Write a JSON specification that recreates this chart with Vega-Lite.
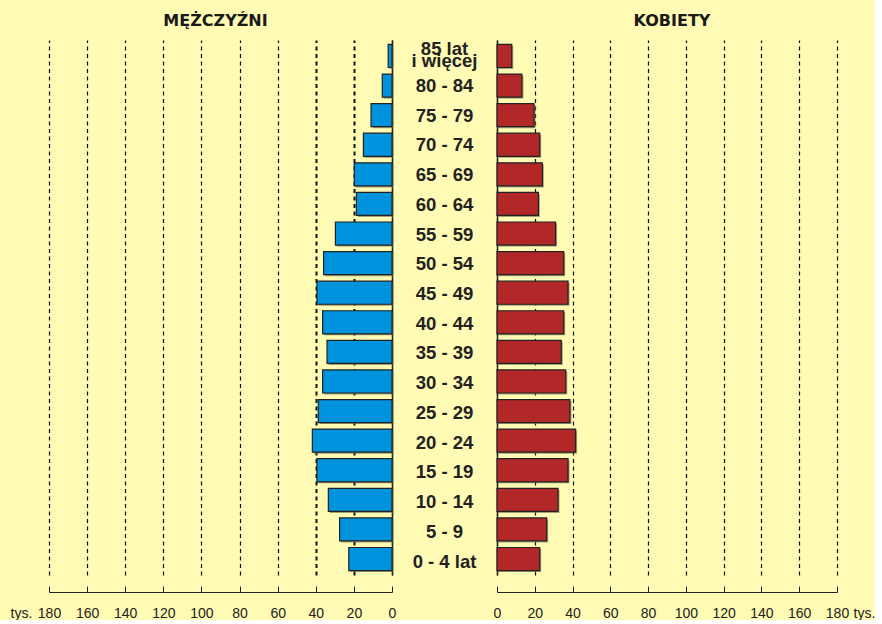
{
  "$schema": "https://vega.github.io/schema/vega-lite/v6.json",
  "background": "#fffab4",
  "padding": {"left": 10, "top": 13, "right": 0, "bottom": 0},
  "spacing": 0,
  "bounds": "flush",
  "datasets": {
    "piramida": [
      {"grupa": "85+", "etykieta": "85 lat\ni więcej", "m": 2, "k": 7.8},
      {"grupa": "80-84", "etykieta": "80 - 84", "m": 5.1, "k": 13.2},
      {"grupa": "75-79", "etykieta": "75 - 79", "m": 11, "k": 19.6},
      {"grupa": "70-74", "etykieta": "70 - 74", "m": 15, "k": 22.6},
      {"grupa": "65-69", "etykieta": "65 - 69", "m": 19.8, "k": 24},
      {"grupa": "60-64", "etykieta": "60 - 64", "m": 18.7, "k": 21.9},
      {"grupa": "55-59", "etykieta": "55 - 59", "m": 29.7, "k": 31},
      {"grupa": "50-54", "etykieta": "50 - 54", "m": 35.9, "k": 35.3},
      {"grupa": "45-49", "etykieta": "45 - 49", "m": 39.4, "k": 37.6},
      {"grupa": "40-44", "etykieta": "40 - 44", "m": 36.4, "k": 35.3},
      {"grupa": "35-39", "etykieta": "35 - 39", "m": 34.1, "k": 34},
      {"grupa": "30-34", "etykieta": "30 - 34", "m": 36.4, "k": 36.4},
      {"grupa": "25-29", "etykieta": "25 - 29", "m": 38.7, "k": 38.6},
      {"grupa": "20-24", "etykieta": "20 - 24", "m": 41.8, "k": 41.6},
      {"grupa": "15-19", "etykieta": "15 - 19", "m": 39.4, "k": 37.6},
      {"grupa": "10-14", "etykieta": "10 - 14", "m": 33.4, "k": 32.3},
      {"grupa": "5-9", "etykieta": "5 - 9", "m": 27.5, "k": 26.3},
      {"grupa": "0-4", "etykieta": "0 - 4 lat", "m": 22.7, "k": 22.6}
    ]
  },
  "data": {"name": "piramida"},
  "hconcat": [
    {
      "width": 343,
      "height": 535,
      "title": {"text": "MĘŻCZYŹNI", "font": "DejaVu Sans", "fontSize": 16, "fontWeight": "bold", "color": "#1a1a1a", "offset": 11, "anchor": "middle", "dx": -5},
      "encoding": {
        "y": {
          "field": "grupa", "type": "nominal", "sort": null,
          "scale": {"domain": ["85+", "80-84", "75-79", "70-74", "65-69", "60-64", "55-59", "50-54", "45-49", "40-44", "35-39", "30-34", "25-29", "20-24", "15-19", "10-14", "5-9", "0-4"], "paddingInner": 0.22, "paddingOuter": 0.15},
          "axis": {"orient": "right", "labels": false, "ticks": false, "title": null, "grid": false, "domainColor": "#222", "domainWidth": 1.5}
        },
        "x": {
          "field": "m", "type": "quantitative",
          "scale": {"domain": [0, 180], "reverse": true, "nice": false},
          "axis": {
            "values": [0, 20, 40, 60, 80, 100, 120, 140, 160, 180],
            "grid": true, "gridDash": [4, 3.5], "gridColor": "#111", "gridOpacity": 1,
            "gridWidth": {"condition": {"test": "datum.value == 20 || datum.value == 40", "value": 2}, "value": 1.2},
            "domainColor": "#222", "domainWidth": 1, "tickColor": "#222", "tickSize": -6, "tickWidth": 1,
            "offset": 17, "labelPadding": 20, "labelFontSize": 14, "labelColor": "#222", "labelFont": "Liberation Sans", "labelFlush": false,
            "title": "tys.", "titleFont": "Liberation Sans", "titleFontSize": 14, "titleFontWeight": "normal", "titleColor": "#222",
            "titleX": -28, "titleY": 25, "titleAlign": "center", "titleBaseline": "alphabetic"
          }
        }
      },
      "layer": [
        {"mark": {"type": "bar", "color": "#77775a", "opacity": 0.7, "xOffset": 1.5, "yOffset": 1.5}},
        {"mark": {"type": "bar", "color": "#0093dd", "stroke": "#222", "strokeWidth": 1.2}}
      ]
    },
    {
      "width": 105,
      "height": 535,
      "encoding": {
        "y": {"field": "grupa", "type": "nominal", "sort": null,
          "scale": {"domain": ["85+", "80-84", "75-79", "70-74", "65-69", "60-64", "55-59", "50-54", "45-49", "40-44", "35-39", "30-34", "25-29", "20-24", "15-19", "10-14", "5-9", "0-4"], "paddingInner": 0.22, "paddingOuter": 0.15},
          "axis": null},
        "text": {"field": "etykieta", "type": "nominal"}
      },
      "layer": [
        {
          "transform": [{"filter": "datum.grupa != '85+'"}],
          "mark": {"type": "text", "font": "Liberation Sans", "fontSize": 18.5, "fontWeight": "bold", "color": "#222", "baseline": "alphabetic", "align": "center", "dy": 7.4}
        },
        {
          "transform": [{"filter": "datum.grupa == '85+'"}],
          "mark": {"type": "text", "font": "Liberation Sans", "fontSize": 18.5, "fontWeight": "bold", "color": "#222", "baseline": "alphabetic", "align": "center", "dy": 0.5, "lineBreak": "\n", "lineHeight": 12}
        }
      ]
    },
    {
      "width": 340,
      "height": 535,
      "title": {"text": "KOBIETY", "font": "DejaVu Sans", "fontSize": 16, "fontWeight": "bold", "color": "#1a1a1a", "offset": 11, "anchor": "middle", "dx": 5},
      "encoding": {
        "y": {
          "field": "grupa", "type": "nominal", "sort": null,
          "scale": {"domain": ["85+", "80-84", "75-79", "70-74", "65-69", "60-64", "55-59", "50-54", "45-49", "40-44", "35-39", "30-34", "25-29", "20-24", "15-19", "10-14", "5-9", "0-4"], "paddingInner": 0.22, "paddingOuter": 0.15},
          "axis": {"orient": "left", "labels": false, "ticks": false, "title": null, "grid": false, "domainColor": "#222", "domainWidth": 1.5}
        },
        "x": {
          "field": "k", "type": "quantitative",
          "scale": {"domain": [0, 180], "nice": false},
          "axis": {
            "values": [0, 20, 40, 60, 80, 100, 120, 140, 160, 180],
            "grid": true, "gridDash": [4, 3.5], "gridColor": "#111", "gridWidth": 1.2, "gridOpacity": 1,
            "domainColor": "#222", "domainWidth": 1, "tickColor": "#222", "tickSize": -6, "tickWidth": 1,
            "offset": 17, "labelPadding": 20, "labelFontSize": 14, "labelColor": "#222", "labelFont": "Liberation Sans", "labelFlush": false,
            "title": "tys.", "titleFont": "Liberation Sans", "titleFontSize": 14, "titleFontWeight": "normal", "titleColor": "#222",
            "titleX": 367, "titleY": 25, "titleAlign": "center", "titleBaseline": "alphabetic"
          }
        }
      },
      "layer": [
        {"mark": {"type": "bar", "color": "#77775a", "opacity": 0.7, "xOffset": 1.5, "yOffset": 1.5}},
        {"mark": {"type": "bar", "color": "#b22828", "stroke": "#222", "strokeWidth": 1.2}}
      ]
    }
  ],
  "config": {
    "view": {"stroke": null},
    "font": "Liberation Sans"
  }
}
